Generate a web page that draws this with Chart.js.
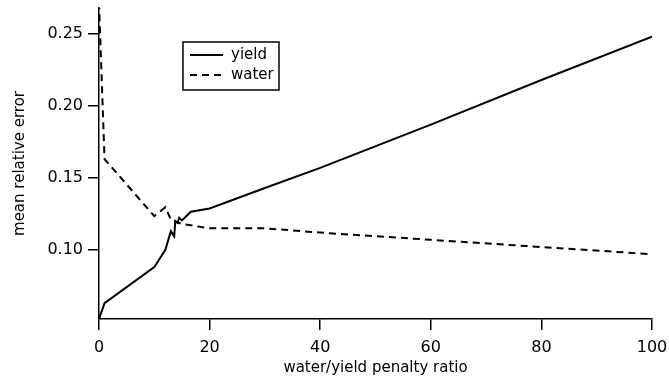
<!DOCTYPE html>
<html>
<head>
<meta charset="utf-8">
<script src="https://cdn.jsdelivr.net/npm/chart.js@4"></script>
<style>
  html, body { margin: 0; padding: 0; background: #fff; }
  #wrap { width: 669px; height: 382px; }
</style>
</head>
<body>
<div id="wrap"><canvas id="errorChart" width="669" height="382"></canvas></div>
<script>
// values
const yieldX = [0, 1, 10, 12, 13, 13.6, 13.8, 14.2, 14.5, 15, 16.6, 20, 30, 40, 60, 80, 100];
const yieldY = [0.052, 0.063, 0.088, 0.100, 0.113, 0.1095, 0.120, 0.1188, 0.1223, 0.1205, 0.1265, 0.1288, 0.143, 0.157, 0.187, 0.218, 0.248];
const waterX = [0, 1, 10, 12, 13, 15, 20, 30, 40, 60, 80, 100];
const waterY = [0.272, 0.163, 0.1235, 0.1297, 0.121, 0.118, 0.115, 0.115, 0.112, 0.107, 0.102, 0.097];
const xTicks = [0, 20, 40, 60, 80, 100];
const yTicks = [0.10, 0.15, 0.20, 0.25];

const toPoints = (xs, ys) => xs.map((x, i) => ({ x: x, y: ys[i] }));

// legend box drawn inside the plot, top left
const boxLegend = {
    id: 'boxLegend',
    afterDraw(chart) {
        const ctx = chart.ctx;
        const x0 = 183, y0 = 42, w = 96, h = 48;
        ctx.save();
        ctx.strokeStyle = '#000';
        ctx.lineWidth = 1.5;
        ctx.strokeRect(x0, y0, w, h);
        ctx.font = '15px "DejaVu Sans"';
        ctx.fillStyle = '#000';
        ctx.textBaseline = 'middle';
        chart.data.datasets.forEach((ds, i) => {
            const y = y0 + 13 + i * 20;
            ctx.beginPath();
            ctx.setLineDash(ds.borderDash || []);
            ctx.lineWidth = 2;
            ctx.moveTo(x0 + 7, y);
            ctx.lineTo(x0 + 40, y);
            ctx.stroke();
            ctx.setLineDash([]);
            ctx.fillText(ds.label, x0 + 48, y);
        });
        ctx.restore();
    }
};

const axisStyle = {
    grid: { display: true, drawOnChartArea: false, drawTicks: true, tickLength: 11, color: '#000', lineWidth: 1.5 },
    border: { display: true, color: '#000', width: 1.5 }
};
const tickFont = { family: 'DejaVu Sans', size: 16 };
const titleFont = { family: 'DejaVu Sans', size: 15 };

new Chart(document.getElementById('errorChart'), {
    type: 'scatter',
    data: {
        datasets: [
            {
                label: 'yield',
                data: toPoints(yieldX, yieldY),
                showLine: true,
                borderColor: '#000',
                borderWidth: 2,
                pointRadius: 0,
                tension: 0
            },
            {
                label: 'water',
                data: toPoints(waterX, waterY),
                showLine: true,
                borderColor: '#000',
                borderWidth: 2,
                borderDash: [7, 5],
                pointRadius: 0,
                tension: 0
            }
        ]
    },
    options: {
        responsive: false,
        animation: false,
        layout: { padding: { left: 0, right: 17, top: 8, bottom: 0 } },
        plugins: { legend: { display: false }, tooltip: { enabled: false } },
        scales: {
            x: {
                type: 'linear',
                min: 0,
                max: 100,
                ...axisStyle,
                afterBuildTicks: s => { s.ticks = xTicks.map(v => ({ value: v })); },
                afterFit: s => { s.height = 63; s.paddingLeft = 0; s.paddingRight = 0; },
                ticks: { color: '#000', padding: 8, maxRotation: 0, font: tickFont, callback: v => String(v) },
                title: { display: true, text: 'water/yield penalty ratio', color: '#000', font: titleFont, padding: { top: 0, bottom: 5 } }
            },
            y: {
                type: 'linear',
                min: 0.052,
                max: 0.268,
                ...axisStyle,
                afterBuildTicks: s => { s.ticks = yTicks.map(v => ({ value: v })); },
                afterFit: s => { s.width = 99; s.paddingTop = 0; s.paddingBottom = 0; },
                ticks: { color: '#000', padding: 5, font: tickFont, callback: v => v.toFixed(2) },
                title: { display: true, text: 'mean relative error', color: '#000', font: titleFont, padding: { top: 11, bottom: 0 } }
            }
        }
    },
    plugins: [boxLegend]
});
</script>
</body>
</html>
